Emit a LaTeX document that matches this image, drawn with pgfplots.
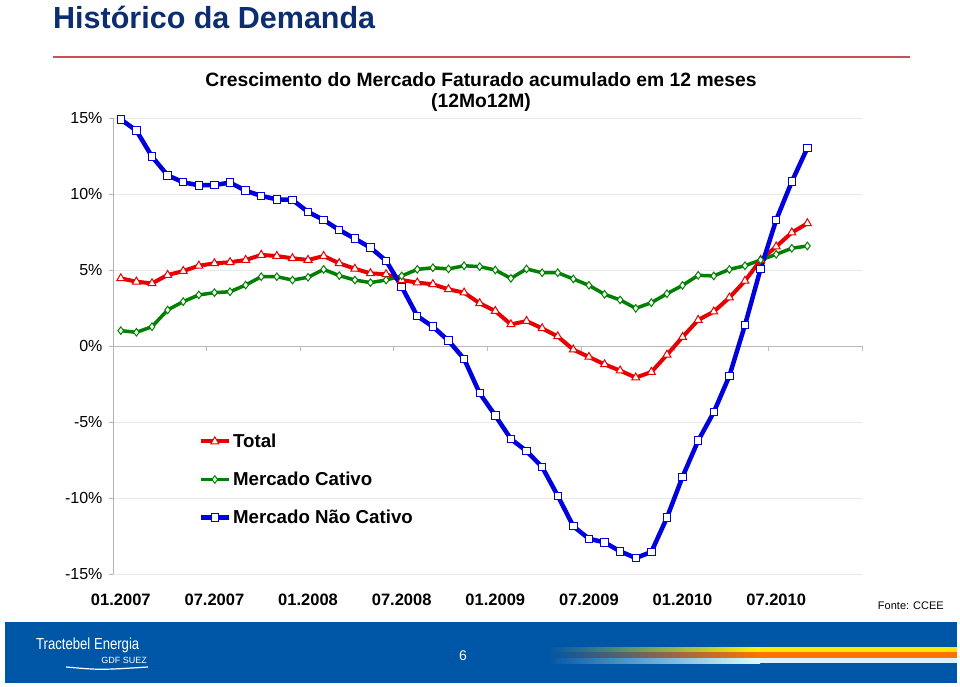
\documentclass[border=0pt]{standalone}
\usepackage{pgfplots}
\pgfplotsset{compat=1.18}
\usepackage{fontspec}
\setmainfont{Liberation Sans}
\definecolor{titleblue}{RGB}{12,46,112}
\definecolor{rulered}{RGB}{200,80,92}
\definecolor{footblue}{RGB}{0,86,166}
\definecolor{cred}{RGB}{232,0,0}
\definecolor{cgreen}{RGB}{0,128,0}
\definecolor{cblue}{RGB}{0,0,222}
\begin{document}
\begin{tikzpicture}
\useasboundingbox (0pt,0pt) rectangle (960pt,686pt);
\fill[white] (0pt,0pt) rectangle (960pt,686pt);
% slide title and rule
\node[anchor=west, text=titleblue, font=\bfseries\fontsize{30.5}{34}\selectfont, inner sep=0pt] at (53pt,669pt) {Histórico da Demanda};
\draw[rulered, line width=1.6pt] (53pt,629pt) -- (910pt,629pt);
% chart title
\node[align=center, font=\bfseries\fontsize{19.3}{21.5}\selectfont, inner sep=0pt] at (481pt,594pt) {Crescimento do Mercado Faturado acumulado em 12 meses\\(12Mo12M)};
% source
\node[anchor=east, font=\fontsize{11}{13}\selectfont, inner sep=0pt] at (944pt,80pt) {Fonte: CCEE};
% footer
\fill[footblue] (5pt,3pt) rectangle (957pt,64pt);
\shade[left color=footblue, right color=yellow!90!orange] (547pt,34pt) rectangle (760pt,39pt);
\fill[yellow!90!orange] (760pt,34pt) rectangle (957pt,39pt);
\shade[left color=footblue, right color=orange!90!red] (547pt,28pt) rectangle (760pt,34pt);
\fill[orange!90!red] (760pt,28pt) rectangle (957pt,34pt);
\shade[left color=footblue, right color=cyan!15!white] (547pt,23pt) rectangle (760pt,28pt);
\fill[cyan!15!white] (760pt,23pt) rectangle (957pt,28pt);
\node[anchor=west, text=white, font=\fontsize{16}{18}\selectfont, inner sep=0pt] at (36pt,41pt) {\scalebox{0.82}[1]{Tractebel Energia}};
\node[anchor=east, text=white, font=\fontsize{9}{10}\selectfont, inner sep=0pt] at (147pt,26pt) {GDF SUEZ};
\draw[white, line width=1.2pt] (66pt,19pt) .. controls (100pt,16pt) .. (148pt,19pt);
\node[text=white, font=\fontsize{14}{16}\selectfont, inner sep=0pt] at (463pt,30pt) {6};
\begin{axis}[
  at={(113pt,112pt)}, anchor=south west,
  scale only axis, width=749pt, height=456pt,
  xmin=-0.5, xmax=47.5, ymin=-15, ymax=15,
  axis lines*=left,
  x axis line style={draw=none},
  y axis line style={draw=gray!60},
  ytick={-15,-10,...,15},
  ymajorgrids, grid style={gray!18},
  yticklabel={\pgfmathprintnumber{\tick}\%},
  /pgf/number format/assume math mode=true,
  yticklabel style={font=\fontsize{16}{18}\selectfont, xshift=-3pt},
  ytick style={draw=gray!60},
  tick align=outside, major tick length=4pt,
  xtick={0,6,...,42},
  xticklabels={01.2007,07.2007,01.2008,07.2008,01.2009,07.2009,01.2010,07.2010},
  xtick style={draw=none},
  xticklabel style={font=\bfseries\fontsize{16.5}{18}\selectfont, yshift=-12pt},
  clip=false,
  legend style={at={(0.114,0.312)}, anchor=north west, draw=none, fill=none,
    font=\bfseries\fontsize{18.7}{22}\selectfont, row sep=19pt, inner sep=0pt,
    nodes={inner sep=2pt}},
  legend cell align=left,
  legend image code/.code={
    \draw[mark repeat=2, mark phase=2, #1] plot coordinates {(0pt,0pt) (14pt,0pt) (28pt,0pt)};
  },
]
% zero axis line and category ticks
\draw[gray!55, line width=0.8pt] (axis cs:-0.5,0) -- (axis cs:47.5,0);
\pgfplotsinvokeforeach{-0.5,5.5,11.5,17.5,23.5,29.5,35.5,41.5,47.5}{
  \draw[gray!55, line width=0.8pt] (axis cs:#1,0) -- ++(0pt,-5pt);
}
\addplot[cred, line width=4pt, mark=triangle*, mark size=4.6pt,
  mark options={fill=white, draw=cred, line width=1pt, solid}] coordinates {
(0,4.45) (1,4.23) (2,4.12) (3,4.67) (4,4.93) (5,5.28) (6,5.44) (7,5.51) (8,5.66) (9,5.99)
(10,5.92) (11,5.77) (12,5.66) (13,5.92) (14,5.44) (15,5.08) (16,4.78) (17,4.72) (18,4.34) (19,4.17)
(20,4.06) (21,3.73) (22,3.51) (23,2.81) (24,2.30) (25,1.42) (26,1.64) (27,1.16) (28,0.63) (29,-0.24)
(30,-0.72) (31,-1.21) (32,-1.62) (33,-2.08) (34,-1.71) (35,-0.58) (36,0.59) (37,1.71) (38,2.26) (39,3.18)
(40,4.28) (41,5.66) (42,6.54) (43,7.46) (44,8.07)};
\addlegendentry{Total}
\addplot[cgreen, line width=3.5pt, mark=diamond*, mark size=3.8pt,
  mark options={fill=white, draw=cgreen, line width=1pt, solid}] coordinates {
(0,1.01) (1,0.90) (2,1.27) (3,2.37) (4,2.92) (5,3.36) (6,3.51) (7,3.57) (8,4.01) (9,4.56)
(10,4.56) (11,4.34) (12,4.52) (13,5.04) (14,4.63) (15,4.34) (16,4.17) (17,4.34) (18,4.61) (19,5.04)
(20,5.15) (21,5.07) (22,5.28) (23,5.22) (24,5.00) (25,4.45) (26,5.07) (27,4.82) (28,4.82) (29,4.41)
(30,3.99) (31,3.40) (32,3.03) (33,2.48) (34,2.85) (35,3.44) (36,3.99) (37,4.65) (38,4.61) (39,5.04)
(40,5.28) (41,5.66) (42,6.03) (43,6.43) (44,6.58)};
\addlegendentry{Mercado Cativo}
\addplot[cblue, line width=4.5pt, mark=square*, mark size=3.7pt,
  mark options={fill=white, draw=cblue, line width=1pt, solid}] coordinates {
(0,14.91) (1,14.17) (2,12.46) (3,11.23) (4,10.77) (5,10.57) (6,10.59) (7,10.75) (8,10.22) (9,9.87)
(10,9.65) (11,9.61) (12,8.82) (13,8.29) (14,7.63) (15,7.06) (16,6.47) (17,5.61) (18,3.90) (19,1.97)
(20,1.27) (21,0.35) (22,-0.85) (23,-3.11) (24,-4.58) (25,-6.12) (26,-6.91) (27,-7.96) (28,-9.85) (29,-11.86)
(30,-12.68) (31,-12.92) (32,-13.51) (33,-13.95) (34,-13.55) (35,-11.29) (36,-8.60) (37,-6.23) (38,-4.36) (39,-1.97)
(40,1.38) (41,5.07) (42,8.29) (43,10.81) (44,13.03)};
\addlegendentry{Mercado Não Cativo}
\end{axis}
\end{tikzpicture}
\end{document}
